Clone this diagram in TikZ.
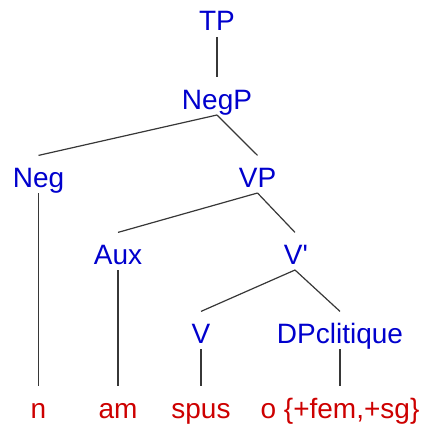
\documentclass[tikz,border=0pt]{standalone}
\usepackage{fontspec}
\setmainfont{Liberation Sans}
\usepackage{tikz}

\definecolor{catblue}{RGB}{0,0,205}
\definecolor{leafred}{RGB}{205,0,0}

\tikzset{
  cat/.style={anchor=base,inner xsep=0pt,inner ysep=0pt,text height=23.5pt,text depth=4.3pt,
    text=catblue,font=\fontsize{21}{25}\selectfont},
  leaf/.style={cat,text=leafred},
  branch/.style={draw={rgb,255:red,55;green,55;blue,55},line width=0.9pt}
}

\begin{document}
\begin{tikzpicture}[x=0.75pt,y=0.75pt,yscale=-1,xscale=1]
\useasboundingbox (0,0) rectangle (425,428);

% Category Nodes
\draw (217,31) node (tp) [cat] {TP};
\draw (217,109) node (negp) [cat] {NegP};
\draw (38.5,187) node (neg) [cat] {Neg};
\draw (257.5,187) node (vp) [cat] {VP};
\draw (118,264) node (aux) [cat] {Aux};
\draw (296,264) node (vbar) [cat] {V\textquotesingle};
\draw (201,343) node (v) [cat] {V};
\draw (340,343) node (dp) [cat] {DPclitique};

% Leaf Nodes
\draw (38.5,418) node (n) [leaf] {n};
\draw (118,418) node (am) [leaf] {am};
\draw (201,418) node (spus) [leaf] {spus};
\draw (340,418) node (o) [leaf] {o \{+fem,+sg\}};

% Branches
\draw [branch] (tp.south) -- (negp.north);
\draw [branch] (negp.south) -- (neg.north);
\draw [branch] (negp.south) -- (vp.north);
\draw [branch] (vp.south) -- (aux.north);
\draw [branch] (vp.south) -- (vbar.north -| 295,0);
\draw [branch] (vbar.south -| 295,0) -- (v.north);
\draw [branch] (vbar.south -| 295,0) -- (dp.north);
\draw [branch] (neg.south) -- (n.north);
\draw [branch] (aux.south) -- (am.north);
\draw [branch] (v.south) -- (spus.north);
\draw [branch] (dp.south) -- (o.north);

\end{tikzpicture}
\end{document}
